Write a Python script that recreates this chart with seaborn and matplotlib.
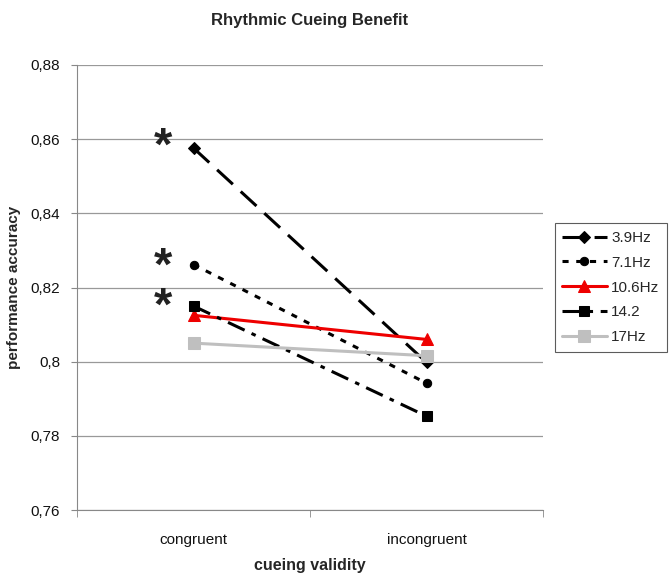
import pandas as pd
import matplotlib.pyplot as plt
import seaborn as sns
from matplotlib.ticker import FuncFormatter

# ----- Dati -----
conditions = ["congruent", "incongruent"]
series_names = ["3.9Hz", "7.1Hz", "10.6Hz", "14.2", "17Hz"]
acc_39 = [0.8576, 0.7998]
acc_71 = [0.8262, 0.7942]
acc_106 = [0.8125, 0.8060]
acc_142 = [0.8150, 0.7853]
acc_17 = [0.8050, 0.8016]
star_values = [0.8577, 0.8253, 0.8145]

values = [acc_39, acc_71, acc_106, acc_142, acc_17]
rows = []
for name, vals in zip(series_names, values):
    for i, cond in enumerate(conditions):
        rows.append({"freq": name, "validity": cond, "x": i, "acc": vals[i]})
df = pd.DataFrame(rows)

styles = {
    "3.9Hz": dict(color="black", marker="D", ls=(0, (7, 3.5)), ms=6),
    "7.1Hz": dict(color="black", marker="o", ls=(0, (2, 2.5)), ms=6),
    "10.6Hz": dict(color="#ee0000", marker="^", ls="-", ms=8),
    "14.2": dict(color="black", marker="s", ls=(0, (6, 2.5, 1.5, 2.5)), ms=7),
    "17Hz": dict(color="#bfbfbf", marker="s", ls="-", ms=8),
}

sns.set_style("white")
plt.rcParams["font.family"] = ["Liberation Sans", "DejaVu Sans"]
fig = plt.figure(figsize=(6.72, 5.82), dpi=100)
ax = fig.add_axes([77 / 672, 72 / 582, 466 / 672, 445 / 582])

for name in series_names:
    st = styles[name]
    sub = df[df["freq"] == name]
    sns.lineplot(data=sub, x="x", y="acc", ax=ax, color=st["color"], marker=st["marker"],
                 linestyle=st["ls"], markersize=st["ms"], linewidth=2.2,
                 markeredgecolor=st["color"], label=name)

# asterischi di significatività
for v in star_values:
    ax.text(-0.13, v, "*", fontsize=34, fontweight="bold", ha="center", va="center",
            color="#222222")

ax.set_xlim(-0.5, 1.5)
ax.set_ylim(0.76, 0.88)
ax.set_xticks([0, 1])
ax.set_xticks([-0.5, 0.5, 1.5], minor=True)
ax.set_xticklabels(conditions, fontsize=11)
ax.set_yticks([0.76, 0.78, 0.80, 0.82, 0.84, 0.86, 0.88])
ax.yaxis.set_major_formatter(FuncFormatter(lambda v, p: f"{v:g}".replace(".", ",")))
ax.tick_params(axis="y", labelsize=11, left=True, length=4, color="#888888", pad=8,
               labelcolor="#111111")
ax.tick_params(axis="x", which="major", bottom=False, pad=13, labelcolor="#111111")
ax.tick_params(axis="x", which="minor", bottom=True, length=5, color="#888888")
ax.grid(axis="y", color="#999999", linewidth=0.9)
for s in ["top", "right"]:
    ax.spines[s].set_visible(False)
for s in ["left", "bottom"]:
    ax.spines[s].set_color("#888888")

ax.set_title("Rhythmic Cueing Benefit", fontsize=12, fontweight="bold", pad=29)
ax.set_xlabel("cueing validity", fontsize=11.5, fontweight="bold", labelpad=8)
ax.set_ylabel("performance accuracy", fontsize=11, fontweight="bold", labelpad=7)

leg = ax.legend(loc="center left", bbox_to_anchor=(1.025, 0.5), frameon=True, fancybox=False,
                edgecolor="#333333", fontsize=11, handlelength=2.9, handletextpad=0.3,
                borderpad=0.5, labelspacing=0.7, borderaxespad=0)
leg.get_frame().set_linewidth(0.8)

plt.savefig("out.png", dpi=100)
